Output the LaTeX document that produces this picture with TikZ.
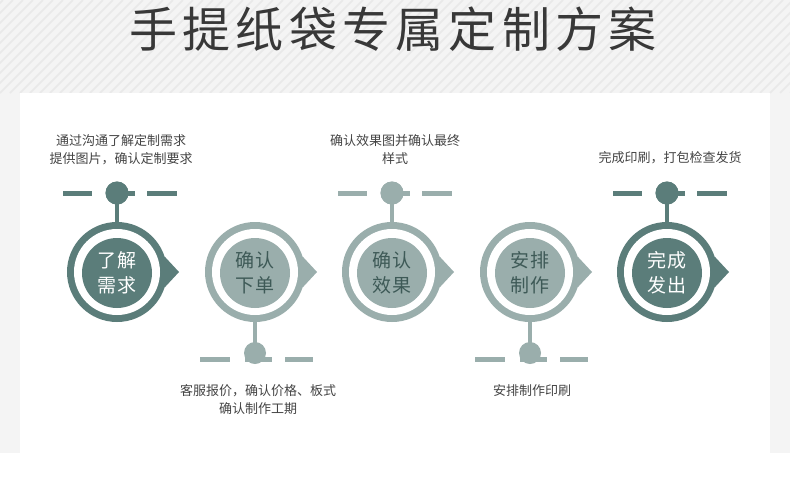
\documentclass[tikz,border=0pt]{standalone}
\usepackage{fontspec}
\newfontfamily\cjk{Noto Sans CJK SC}
\newfontfamily\cjktitle[LetterSpace=11]{Noto Sans CJK SC}
\newfontfamily\cjkcirc[LetterSpace=10]{Noto Sans CJK SC}
\definecolor{darkc}{HTML}{5B7D7A}
\definecolor{lightc}{HTML}{9AAEAC}
\definecolor{bgc}{HTML}{F4F4F4}
\definecolor{stripec}{HTML}{E9E9E9}
\definecolor{titlec}{HTML}{383838}
\definecolor{labc}{HTML}{444444}
\definecolor{darktxt}{HTML}{3E5A57}
\begin{document}
\begin{tikzpicture}[x=1pt,y=-1pt,
  outer/.style={circle,minimum size=100pt,inner sep=0pt,fill=#1},
  ring/.style={circle,minimum size=86pt,inner sep=0pt,fill=white},
  core/.style={circle,minimum size=70pt,inner sep=0pt,fill=#1,align=center,font=\cjkcirc\fontsize{19}{25}\selectfont},
  dotn/.style={circle,minimum size=23pt,inner sep=0pt,fill=#1},
  dashl/.style={line width=5pt,draw=#1},
  steml/.style={line width=4pt,draw=#1},
  lab/.style={align=center,font=\cjk\fontsize{13}{18}\selectfont,text=labc,inner sep=0pt}]
\useasboundingbox (0,0) rectangle (790,491);
\fill[white] (0,0) rectangle (790,491);
\fill[bgc] (0,0) rectangle (790,453);
\begin{scope}
\clip (0,0) rectangle (790,93);
\foreach \i in {-100,-90,...,800} {
  \draw[stripec,line width=1.6pt] (\i,93) -- (\i+93,0);
}
\end{scope}
\fill[white] (20,93) rectangle (770,453);
\node[font=\cjktitle\fontsize{48}{48}\selectfont,text=titlec,inner sep=0pt] (title) at (393,29) {手提纸袋专属定制方案};

% circles
\foreach \n/\x/\col/\tcol/\ta/\tb in {1/117/darkc/white/了解/需求,2/255/lightc/darktxt/确认/下单,3/392/lightc/darktxt/确认/效果,4/530/lightc/darktxt/安排/制作,5/667/darkc/white/完成/发出}{
  \fill[\col] (\x+47.6,272-15.5) -- (\x+62,272) -- (\x+47.6,272+15.5) -- cycle;
  \node[outer=\col] (c\n) at (\x,272) {};
  \node[ring] (r\n) at (\x,272) {};
  \node[core=\col,text=\tcol] (k\n) at (\x,273) {\ta\\\tb};
}

% top connectors
\foreach \n/\x/\col in {1/117/darkc,3/392/lightc,5/667/darkc}{
  \node[dotn=\col] (d\n) at (\x,193) {};
  \draw[steml=\col] (d\n.center) -- (c\n.north);
  \draw[dashl=\col] ([xshift=-54]d\n.center) -- ([xshift=-25]d\n.center);
  \draw[dashl=\col] ([xshift=-10]d\n.center) -- ([xshift=18]d\n.center);
  \draw[dashl=\col] ([xshift=30]d\n.center) -- ([xshift=60]d\n.center);
  \node[dotn=\col] at (d\n) {};
}
% bottom connectors
\foreach \n/\x/\col in {2/255/lightc,4/530/lightc}{
  \coordinate (b\n) at (\x,359);
  \draw[steml=\col] (c\n.south) -- (b\n);
  \draw[dashl=\col] ([xshift=-55]b\n) -- ([xshift=-25]b\n);
  \draw[dashl=\col] ([xshift=-10]b\n) -- ([xshift=17]b\n);
  \draw[dashl=\col] ([xshift=30]b\n) -- ([xshift=58]b\n);
  \node[dotn=\col,minimum size=22pt] (d\n) at (\x,353) {};
}

% labels
\node[lab] (t1) at (121,150) {通过沟通了解定制需求\\提供图片，确认定制要求};
\node[lab] (t3) at (395,150) {确认效果图并确认最终\\样式};
\node[lab] (t5) at (670,158) {完成印刷，打包检查发货};
\node[lab] (t2) at (258,400) {客服报价，确认价格、板式\\确认制作工期};
\node[lab] (t4) at (532,391) {安排制作印刷};
\end{tikzpicture}
\end{document}
